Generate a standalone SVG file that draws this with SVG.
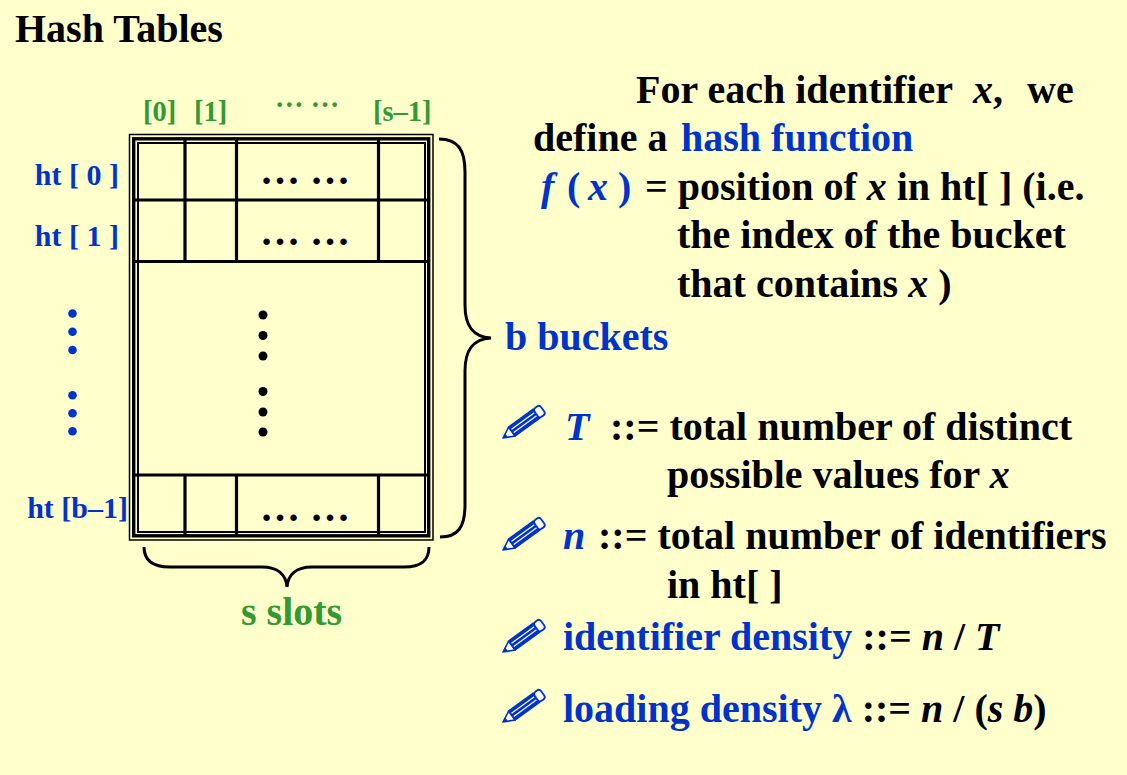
<svg xmlns="http://www.w3.org/2000/svg" width="1127" height="775" viewBox="0 0 1127 775">
<style>
text{font-family:"Liberation Serif","Times New Roman",serif;font-weight:bold;fill:#000}
.t40{font-size:40px}
.blue{fill:#0033CC}
.green{fill:#339933}
.it{font-style:italic}
.lbl{font-size:30px}
.ln{fill:none;stroke:#000}
</style>
<defs>
<g id="pencil">
<polygon points="0,0 11,-5.5 11,5.5" fill="#FFFFFF" stroke="#0033CC" stroke-width="1.6" stroke-linejoin="round"/>
<polygon points="0,0 4.5,-2.3 4.5,2.3" fill="#0033CC"/>
<rect x="11" y="-5.5" width="30" height="11" fill="#0033CC" stroke="#0033CC" stroke-width="1.6"/>
<line x1="12" y1="-2" x2="41" y2="-2" stroke="#FFFFFF" stroke-width="1.2"/>
<line x1="12" y1="1.8" x2="41" y2="1.8" stroke="#FFFFFF" stroke-width="1.2"/>
<rect x="41" y="-5.5" width="8" height="11" rx="3" fill="#FFFFFF" stroke="#0033CC" stroke-width="1.8"/>
</g>
</defs>
<rect x="0" y="0" width="1127" height="775" fill="#FFFFCC"/>

<text id="title" class="t40" x="15" y="42">Hash Tables</text>

<g id="hash-table">
<rect class="ln" x="129.5" y="134.5" width="303.5" height="405.5" stroke-width="1.5"/>
<rect class="ln" x="133.7" y="138.8" width="295" height="397" stroke-width="3.4"/>
<rect class="ln" x="138" y="143" width="287" height="389" stroke-width="2"/>
<g class="ln" stroke-width="3.2">
<line x1="135" y1="200" x2="429" y2="200"/>
<line x1="135" y1="261.5" x2="429" y2="261.5"/>
<line x1="135" y1="475" x2="429" y2="475"/>
<line x1="185" y1="139" x2="185" y2="261.5"/>
<line x1="236.5" y1="139" x2="236.5" y2="261.5"/>
<line x1="378.5" y1="139" x2="378.5" y2="261.5"/>
<line x1="185" y1="475" x2="185" y2="536"/>
<line x1="236.5" y1="475" x2="236.5" y2="536"/>
<line x1="378.5" y1="475" x2="378.5" y2="536"/>
</g>
<text x="260" y="184" style="font-size:40px">… …</text>
<text x="260" y="245" style="font-size:40px">… …</text>
<text x="260" y="521" style="font-size:40px">… …</text>
<g fill="#000">
<circle cx="263" cy="315" r="4.5"/>
<circle cx="263" cy="335.5" r="4.5"/>
<circle cx="263" cy="356" r="4.5"/>
<circle cx="263" cy="391.5" r="4.5"/>
<circle cx="263" cy="412" r="4.5"/>
<circle cx="263" cy="432" r="4.5"/>
</g>
</g>

<g id="column-labels">
<text class="green" style="font-size:28.5px" x="143" y="121">[0]</text>
<text class="green" style="font-size:28.5px" x="194" y="121">[1]</text>
<text class="green" style="font-size:28.5px" x="275" y="107">… …</text>
<text class="green" style="font-size:28.5px" x="373" y="121">[s–1]</text>
</g>

<g id="row-labels">
<text class="blue lbl" x="119" y="185" text-anchor="end">ht [ 0 ]</text>
<text class="blue lbl" x="119" y="246" text-anchor="end">ht [ 1 ]</text>
<text class="blue lbl" x="128" y="518" text-anchor="end">ht [b–1]</text>
<g fill="#0033CC">
<circle cx="72.5" cy="313.5" r="4.3"/>
<circle cx="72.5" cy="331.7" r="4.3"/>
<circle cx="72.5" cy="350" r="4.3"/>
<circle cx="72.5" cy="395.3" r="4.3"/>
<circle cx="72.5" cy="413.3" r="4.3"/>
<circle cx="72.5" cy="431.3" r="4.3"/>
</g>
</g>

<g id="connectors">
<path class="ln" stroke-width="3" d="M439 139 C458 139 465 150 465 172 L465 305 C465 325 472 337 491 338 C472 339 465 351 465 371 L465 505 C465 527 458 537 440 537"/>
<path class="ln" stroke-width="3" d="M144 547 C144 560 152 567 170 567 L262 567 C278 567 286 575 287 587 C288 575 296 567 312 567 L404 567 C422 567 429 560 429 547"/>
</g>

<g id="b-buckets">
<text class="t40 blue" x="505" y="350">b buckets</text>
</g>
<g id="s-slots">
<text class="t40 green" x="241" y="625">s slots</text>
</g>

<g id="definition">
<text class="t40" y="103"><tspan x="636">For each identifier</tspan><tspan x="973" class="it">x</tspan><tspan>,</tspan><tspan x="1027">we</tspan></text>
<text class="t40" y="151"><tspan x="533">define a</tspan><tspan x="681" class="blue">hash function</tspan></text>
<text class="t40" y="200"><tspan x="541" class="blue it">f</tspan><tspan x="567" class="blue">(</tspan><tspan x="588" class="blue it">x</tspan><tspan x="618" class="blue">)</tspan><tspan x="645">= position of </tspan><tspan class="it">x</tspan><tspan> in ht[ ] (i.e.</tspan></text>
<text class="t40" x="677" y="248">the index of the bucket</text>
<text class="t40" y="297"><tspan x="677">that contains </tspan><tspan class="it">x</tspan><tspan> )</tspan></text>
</g>

<g id="bullet-T">
<use href="#pencil" transform="translate(503,438) rotate(-36)"/>
<text class="t40" y="440"><tspan x="565" class="blue it">T</tspan><tspan x="610">::= total number of distinct</tspan></text>
<text class="t40" y="488"><tspan x="667">possible values for </tspan><tspan class="it">x</tspan></text>
</g>
<g id="bullet-n">
<use href="#pencil" transform="translate(503,550) rotate(-36)"/>
<text class="t40" y="549"><tspan x="563" class="blue it">n</tspan><tspan x="598">::= total number of identifiers</tspan></text>
<text class="t40" x="667" y="598">in ht[ ]</text>
</g>
<g id="bullet-identifier-density">
<use href="#pencil" transform="translate(503,652) rotate(-36)"/>
<text class="t40" y="650"><tspan x="563" class="blue">identifier density</tspan><tspan> ::= </tspan><tspan class="it">n</tspan><tspan> / </tspan><tspan class="it">T</tspan></text>
</g>
<g id="bullet-loading-density">
<use href="#pencil" transform="translate(503,722) rotate(-36)"/>
<text class="t40" y="722"><tspan x="563" class="blue">loading density λ</tspan><tspan> ::= </tspan><tspan class="it">n</tspan><tspan> / (</tspan><tspan class="it">s b</tspan><tspan>)</tspan></text>
</g>
</svg>
